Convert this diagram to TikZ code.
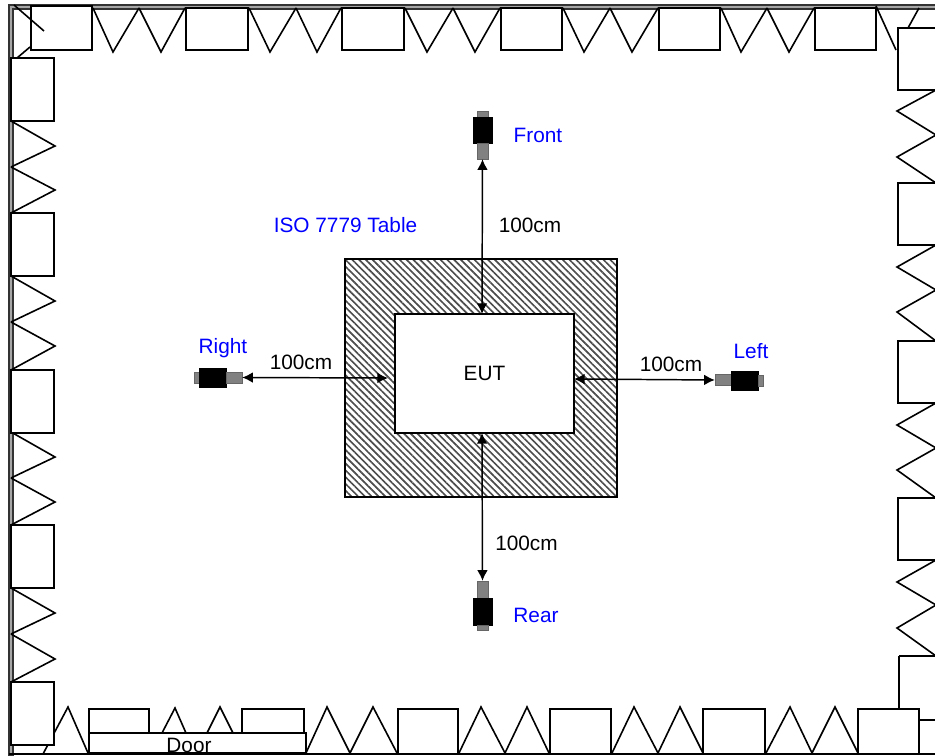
\documentclass[tikz,border=0pt]{standalone}
\usepackage{fontspec}
\setmainfont{Liberation Sans}
\usetikzlibrary{patterns.meta,arrows.meta}
\begin{document}
\begin{tikzpicture}
    [
    x=0.75pt,y=-0.75pt,
    wall/.style={draw=black!80,fill=black!35,line width=0.8pt},
    wedge/.style={draw,line width=1.2pt,line join=miter},
    panel/.style={draw,fill=white,line width=1.2pt},
    label/.style={inner sep=0pt,font=\fontsize{15.6}{18}\selectfont},
    tag/.style={label,text=blue},
    grille/.style={pattern={Dots[distance=1.5pt,radius=0.62pt]},pattern color=black,draw=black!60,line width=0.3pt,inner sep=0pt},
    body/.style={fill=black,draw=black,inner sep=0pt},
    span/.style={{Latex[length=8pt,width=8pt]}-{Latex[length=8pt,width=8pt]},line width=1.1pt}
    ]
    \useasboundingbox (0,0) rectangle (935,756);
    % walls
    \fill [wall] (936,5) -- (9,5) -- (9,755) -- (13,755) -- (13,9) -- (936,9) -- cycle;
    \draw [line width=1.2pt] (9,754) -- (935,754);
    % wedges
    \foreach \a/\b/\c in {93/113/139,139/161/185,249/270/296,296/317/341,405/427/453,453/475/500,563/584/610,610/632/658,721/741/767,767/789/814}
      \draw [wedge] (\a,8) -- (\b,52) -- (\c,8);
    \draw [wedge] (876,6) -- (896,50);
    \draw [wedge] (908,28) -- (919,8);
    \foreach \a/\b/\c in {121/146/167,167/190/213,276/301/322,322/346/370,432/457/478,478/502/525,588/613/634,634/659/682}
      \draw [wedge] (11,\a) -- (55,\b) -- (11,\c);
    \foreach \a/\b/\c in {90/111/135,135/157/183,245/267/290,290/312/341,403/425/448,448/470/498,560/582/605,605/628/656}
      \draw [wedge] (936,\a) -- (897,\b) -- (936,\c);
    \foreach \a/\b/\c in {306/327/350,350/373/397,459/481/505,505/527/549,612/634/658,658/680/703,766/790/812,812/835/858}
      \draw [wedge] (\a,753) -- (\b,707) -- (\c,753);
    \draw [wedge] (43,754) -- (68,707) -- (88,753);
    \draw [wedge] (162,733) -- (175,708) -- (186,733);
    \draw [wedge] (207,733) -- (220,707) -- (233,733);
    \draw [wedge] (17,58) -- (30,47);
    % panels
    \foreach \a/\b in {186/248,342/404,501/562,659/720,815/876}
      \draw [panel] (\a,8) rectangle (\b,50);
    \foreach \a/\b in {398/458,550/611,703/765,858/919}
      \draw [panel] (\a,709) rectangle (\b,754);
    \foreach \a/\b in {89/149,242/304}
      \draw [panel] (\a,709) rectangle (\b,733);
    \foreach \a in {58,213,370,525,682}
      \draw [panel] (11,\a) rectangle (54,\a+63);
    \foreach \a in {28,183,341,498}
      \draw [panel] (898,\a) rectangle (940,\a+62);
    \draw [panel] (899,656) -- (899,708);
    \draw [panel] (899,656) -- (936,656);
    \draw [wedge] (919,720) -- (936,720);
    \draw [panel] (31,6) rectangle (92,50);
    \draw [wedge] (14,5) -- (44,31);
    \node (door) at (197.5,743) [draw,fill=white,line width=1.2pt,minimum width=162.75pt,minimum height=15pt,inner sep=0pt] {};
    \node at (189,745.5) [label] {Door};
    % table
    \draw [pattern={Lines[angle=-45,distance=3.6pt,line width=1.25pt]},pattern color=black!70,line width=1.2pt] (345,259) rectangle (617,497);
    \node (eut) at (484.5,373.5) [draw,fill=white,line width=1.2pt,minimum width=134.25pt,minimum height=89.25pt,inner sep=0pt,label] {EUT};
    \coordinate (eutleft) at (388,378);
    \coordinate (eutright) at (574,379);
    \coordinate (euttop) at (482,314);
    \coordinate (eutbottom) at (482,433);
    % microphones
    \node (fronttop) at (482.5,114) [grille,minimum width=8pt,minimum height=4.5pt] {};
    \node (frontbody) at (482.5,130) [body,minimum width=14pt,minimum height=19.5pt] {};
    \node (front) at (482.5,151) [grille,minimum width=8pt,minimum height=12pt] {};
    \node (rear) at (482.5,589.5) [grille,minimum width=8pt,minimum height=12.75pt] {};
    \node (rearbody) at (482.5,611.5) [body,minimum width=14pt,minimum height=20pt] {};
    \node (reartail) at (482.5,627.5) [grille,minimum width=8pt,minimum height=3.75pt] {};
    \node (righttail) at (196.5,377.5) [grille,minimum width=3.75pt,minimum height=8pt] {};
    \node (rightbody) at (212.5,377.5) [body,minimum width=20pt,minimum height=14pt] {};
    \node (right) at (234,377.5) [grille,minimum width=12pt,minimum height=8pt] {};
    \node (left) at (723,380) [grille,minimum width=12pt,minimum height=8pt] {};
    \node (leftbody) at (744.5,380.5) [body,minimum width=20pt,minimum height=14pt] {};
    \node (lefttail) at (760.5,380.5) [grille,minimum width=3.75pt,minimum height=8pt] {};
    % distances
    \draw [span] (front.south) to (euttop);
    \draw [span] (eutbottom) to (rear.north);
    \draw [span] (right.east) to (eutleft);
    \draw [span] (eutright) to (left.west);
    \node at (530,225) [label] {100cm};
    \node at (526.5,543) [label] {100cm};
    \node at (301,362) [label] {100cm};
    \node at (671,364) [label] {100cm};
    % captions
    \node at (538,135) [tag] {Front};
    \node at (536,615) [tag] {Rear};
    \node at (223,348.5) [tag] {Right};
    \node at (751,351) [tag] {Left};
    \node at (345.5,225) [tag] {ISO 7779 Table};
  \end{tikzpicture}
\end{document}
